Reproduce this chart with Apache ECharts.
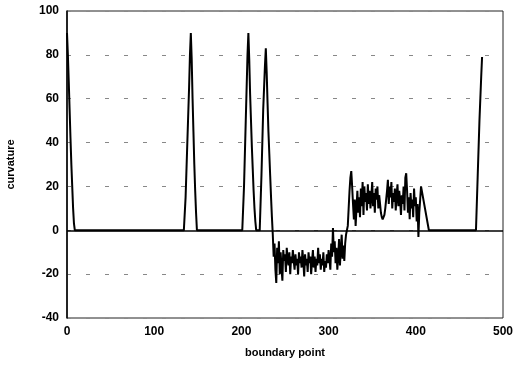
<!DOCTYPE html>
<html>
<head>
<meta charset="utf-8">
<script src="https://cdn.jsdelivr.net/npm/echarts@6/dist/echarts.min.js"></script>
<style>
html,body{margin:0;padding:0;background:#fff;}
#chart{width:513px;height:365px;}
</style>
</head>
<body>
<div id="chart"></div>
<script>
// Tick labels
var xTicks = [0, 100, 200, 300, 400, 500];
var yTicks = [-40, -20, 0, 20, 40, 60, 80, 100];

// Spike segments (boundary point, curvature)
var peak1X = [0, 1, 2, 3, 4, 5, 6, 7, 8, 9];
var peak1Y = [90, 80, 68, 55, 42, 30, 20, 10, 3, 0];

var peak2X = [134, 136, 138, 140, 141, 142, 143, 144, 145, 146, 147, 148, 149];
var peak2Y = [0, 15, 40, 65, 80, 90, 78, 60, 45, 30, 18, 8, 0];

var peak3X = [201, 203, 205, 207, 208, 209, 210, 211, 212, 213, 214, 215, 216, 217];
var peak3Y = [0, 20, 50, 80, 90, 78, 62, 50, 38, 28, 18, 10, 4, 0];

var peak4X = [221, 223, 225, 227, 228, 229, 230, 231, 232, 233, 234, 235];
var peak4Y = [0, 25, 55, 75, 83, 72, 58, 45, 35, 25, 15, 6];

// Noisy negative band, one value per boundary point starting at negStart
var negStart = 236;
var negY = [
  -2, -12, -6, -18, -24, -8, -15, -5, -20, -10,
  -17, -23, -9, -14, -11, -19, -8, -13, -16, -10,
  -20, -12, -15, -9, -14, -18, -11, -16, -13, -20,
  -10, -15, -12, -17, -9, -14, -21, -11, -16, -13,
  -19, -10, -15, -12, -20, -14, -9, -17, -12, -19,
  -13, -16, -8, -15, -11, -18, -13, -16, -10, -19,
  -14, -17, -11, -15, -9, -13, -18, -6, -12, 1,
  -10, -5, -15, -8, -18, -12, -4, -16, -9, -2,
  -13, -7, -14, -6, -2, 0
];

// Noisy positive band, one value per boundary point starting at posStart
var posStart = 322;
var posY = [
  2, 10, 18, 24, 27, 20, 12, 5, 14, 2,
  10, 18, 8, 15, 6, 19, 11, 22, 7, 20,
  13, 17, 9, 21, 12, 18, 10, 15, 22, 11,
  17, 8, 19, 14, 20, 10, 16, 12, 8, 6,
  5, 5, 7, 10, 14, 18, 23, 12, 20, 15,
  22, 10, 17, 13, 19, 9, 16, 21, 11, 18,
  14, 7, 16, 12, 20, 9, 24, 26, 18, 8,
  15, 5, 17, 10, 14, 6, 19, 11, 15, 4,
  12, -3, 8, 14, 20
];

var tailX = [415, 469, 471, 473, 475, 476];
var tailY = [0, 0, 25, 50, 70, 79];

var data = [];
function addPairs(xs, ys) { for (var i = 0; i < xs.length; i++) data.push([xs[i], ys[i]]); }
function addRun(start, ys) { for (var i = 0; i < ys.length; i++) data.push([start + i, ys[i]]); }
addPairs(peak1X, peak1Y);
addPairs(peak2X, peak2Y);
addPairs(peak3X, peak3Y);
addPairs(peak4X, peak4Y);
addRun(negStart, negY);
addRun(posStart, posY);
addPairs(tailX, tailY);

var font = '"Liberation Sans", Arial, sans-serif';
var chart = echarts.init(document.getElementById('chart'), null, {renderer: 'canvas'});
chart.setOption({
  animation: false,
  backgroundColor: '#fff',
  grid: {left: 67, right: 10, top: 11, bottom: 47, show: true, borderColor: '#222', borderWidth: 1,
         backgroundColor: 'transparent', containLabel: false, outerBoundsMode: 'none'},
  xAxis: {
    type: 'value', min: xTicks[0], max: xTicks[xTicks.length - 1], interval: 100,
    axisLine: {show: false}, axisTick: {show: false}, splitLine: {show: false},
    axisLabel: {color: '#000', fontFamily: font, fontSize: 12, fontWeight: 'bold', margin: 8},
    name: 'boundary point', nameLocation: 'middle', nameGap: 29,
    nameTextStyle: {color: '#000', fontFamily: font, fontSize: 11, fontWeight: 'bold'}
  },
  yAxis: {
    type: 'value', min: yTicks[0], max: yTicks[yTicks.length - 1], interval: 20,
    axisLine: {show: true, onZero: false, lineStyle: {color: '#000', width: 1.5}},
    axisTick: {show: false},
    splitLine: {show: true, lineStyle: {color: '#888', type: [4, 15], width: 1}},
    axisLabel: {color: '#000', fontFamily: font, fontSize: 12, fontWeight: 'bold', margin: 8},
    name: 'curvature', nameLocation: 'middle', nameGap: 51, nameRotate: 90,
    nameTextStyle: {color: '#000', fontFamily: font, fontSize: 11, fontWeight: 'bold'}
  },
  series: [{
    type: 'line', data: data, showSymbol: false, symbol: 'none',
    lineStyle: {color: '#000', width: 2},
    markLine: {
      silent: true, symbol: 'none', label: {show: false},
      lineStyle: {color: '#000', type: 'solid', width: 1.5},
      data: [{yAxis: 0}]
    }
  }]
});
</script>
</body>
</html>
